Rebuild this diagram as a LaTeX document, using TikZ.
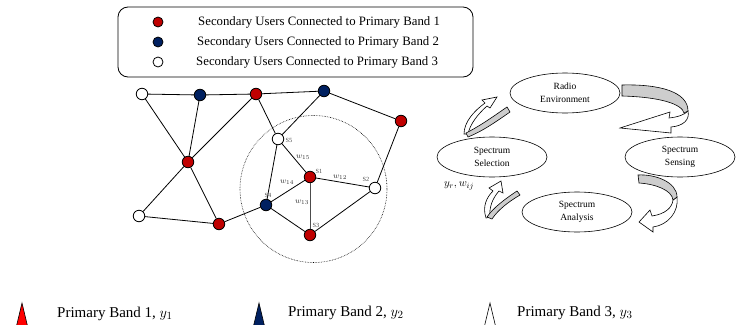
\documentclass[tikz,border=0pt]{standalone}
\usepackage{fontspec}
\setmainfont{Liberation Serif}
\usetikzlibrary{shapes.geometric}
\definecolor{sured}{RGB}{192,0,0}
\definecolor{sublue}{RGB}{0,32,96}
\definecolor{pbred}{RGB}{255,0,0}
\definecolor{ribbon}{RGB}{205,205,205}
\begin{document}
\begin{tikzpicture}[x=1pt,y=-1pt,
  su/.style={circle,draw=black,line width=0.8pt,minimum size=11.5pt,inner sep=0pt},
  sr/.style={su,fill=sured},
  sb/.style={su,fill=sublue},
  sw/.style={su,fill=white},
  link/.style={line width=0.8pt},
  tag/.style={font=\fontsize{6.3}{7}\selectfont,text=black!70,inner sep=0pt},
  wlab/.style={font=\fontsize{8.5}{9}\selectfont,text=black!80,inner sep=0pt},
  legtxt/.style={anchor=west,font=\fontsize{12.8}{14}\selectfont,inner sep=0pt},
  pbtxt/.style={anchor=west,font=\fontsize{15}{17}\selectfont,inner sep=0pt},
  stage/.style={ellipse,draw,line width=0.6pt,minimum width=110pt,minimum height=40pt,inner sep=0pt,align=center,font=\fontsize{9.5}{13}\selectfont},
  ribbonstyle/.style={fill=ribbon,draw=black,line width=0.6pt},
  whitearrow/.style={fill=white,draw=black,line width=0.6pt}
]
\useasboundingbox (0,0) rectangle (743,324);

% legend box
\draw[line width=0.8pt,rounded corners=10pt] (118,7) rectangle (473,77);
\node[sr,minimum size=10pt] (l1) at (158,22) {};
\node[sb,minimum size=10pt] (l2) at (158,42) {};
\node[sw,minimum size=10pt] (l3) at (158,62) {};
\node[legtxt] (t1) at (198,22) {Secondary Users Connected to Primary Band 1};
\node[legtxt] (t2) at (197,42) {Secondary Users Connected to Primary Band 2};
\node[legtxt] (t3) at (196,62) {Secondary Users Connected to Primary Band 3};

% network
\draw[densely dotted,line width=0.6pt] (313.5,189) circle (73.5);
\node[sw] (A) at (142,94) {};
\node[sb] (B) at (200,95) {};
\node[sr] (C) at (256,94) {};
\node[sb] (D) at (324,91) {};
\node[sr] (E) at (401,121) {};
\node[sr] (F) at (188,162) {};
\node[sw] (G) at (139,216) {};
\node[sr] (H) at (219,224) {};
\node[sw] (S5) at (278,139) {};
\node[sr] (S1) at (310,177) {};
\node[sw] (S2) at (375,188) {};
\node[sb] (S4) at (266,205) {};
\node[sr] (S3) at (310,235) {};

\draw[link] (A) -- (B);
\draw[link] (B) -- (C);
\draw[link] (C) -- (D);
\draw[link] (A) -- (F);
\draw[link] (B) -- (F);
\draw[link] (C) -- (F);
\draw[link] (F) -- (G);
\draw[link] (F) -- (H);
\draw[link] (G) -- (H);
\draw[link] (C) -- (S5);
\draw[link] (D) -- (S5);
\draw[link] (D) -- (E);
\draw[link] (E) -- (S2);
\draw[link] (S5) -- (S1);
\draw[link] (S5) -- (S4);
\draw[link] (S1) -- (S2);
\draw[link,black!70] (S1) -- (S3);
\draw[link] (S1) -- (S4);
\draw[link] (S4) -- (S3);
\draw[link] (S3) -- (S2);
\draw[link] (H) -- (S4);

\node[tag] (tS5) at (289,140) {S5};
\node[tag] (tS1) at (319,171) {S1};
\node[tag] (tS2) at (366,179) {S2};
\node[tag] (tS4) at (268,195) {S4};
\node[tag] (tS3) at (316,225) {S3};
\node[wlab] (w15) at (303,157) {$w_{15}$};
\node[wlab] (w14) at (287,182) {$w_{14}$};
\node[wlab] (w12) at (340,177) {$w_{12}$};
\node[wlab] (w13) at (302,202) {$w_{13}$};

% cycle
\node[stage] (radio) at (565,93) {Radio\\Environment};
\node[stage] (sense) at (680,157) {Spectrum\\Sensing};
\node[stage] (select) at (492,157) {Spectrum\\Selection};
\node[stage] (analysis) at (577,212) {Spectrum\\Analysis};

% arrow radio -> sensing
\draw[whitearrow] (620,128) -- (670,112) -- (669,118) .. controls (678,117) and (684,115) .. (688,111)
  .. controls (690,120) and (683,126) .. (671,127) -- (671,133) -- cycle;
\draw[ribbonstyle] (622,85) .. controls (660,84) and (688,92) .. (688,111) -- (684,113)
  .. controls (682,104) and (660,97) .. (622,96) -- cycle;

% arrow sensing -> analysis
\draw[whitearrow] (639,222) -- (650,210) -- (652,216) .. controls (665,214) and (672,208) .. (673,200)
  -- (677,197) .. controls (679,212) and (668,225) .. (653,227) -- (653,232) -- cycle;
\draw[ribbonstyle] (638,175) .. controls (655,174) and (677,182) .. (677,197) -- (673,200)
  .. controls (672,190) and (655,184) .. (639,183) -- cycle;

% arrow analysis -> selection
\draw[whitearrow] (501,181) -- (503,193) -- (499,191) .. controls (492,199) and (489,208) .. (490,217)
  -- (486,218) .. controls (482,206) and (487,197) .. (493,191) -- (489,188) -- cycle;
\draw[ribbonstyle] (517,191) .. controls (505,199) and (493,208) .. (487,217) -- (492,219)
  .. controls (498,210) and (508,202) .. (520,195) -- cycle;

% arrow selection -> radio
\draw[whitearrow] (497,97) -- (490,108) -- (487,106) .. controls (478,114) and (470,124) .. (468,134)
  -- (464,134) .. controls (464,122) and (474,111) .. (485,103) -- (482,100) -- cycle;
\draw[ribbonstyle] (507,107) .. controls (494,116) and (480,126) .. (466,133) -- (468,137)
  .. controls (483,131) and (497,121) .. (510,112) -- cycle;

\node[font=\fontsize{11}{12}\selectfont,inner sep=0pt] (yw) at (459,186) {$y_r, w_{ij}$};

% primary band legend
\draw[fill=pbred,line width=0.6pt] (22,303) -- (27.5,326) -- (16.5,326) -- cycle;
\draw[fill=sublue,line width=0.6pt] (259,303) -- (264.5,326) -- (253.5,326) -- cycle;
\draw[fill=white,line width=0.6pt] (490,303) -- (495.5,326) -- (484.5,326) -- cycle;
\node[pbtxt] (p1) at (57,314) {Primary Band 1, $y_1$};
\node[pbtxt] (p2) at (288,313) {Primary Band 2, $y_2$};
\node[pbtxt] (p3) at (517,313) {Primary Band 3, $y_3$};
\end{tikzpicture}
\end{document}
